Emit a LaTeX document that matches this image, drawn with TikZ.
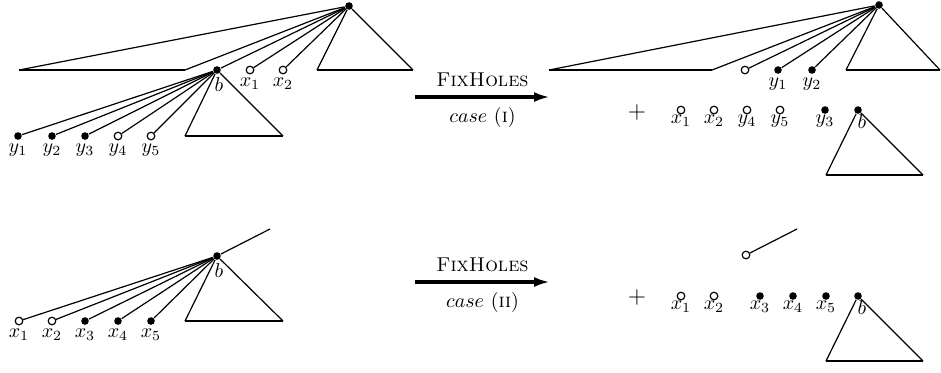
\documentclass[tikz,border=0pt]{standalone}
\usepackage{amsmath}
\usepackage{amssymb}
\usepackage{tikz}
\usetikzlibrary{arrows.meta}

\begin{document}
\begin{tikzpicture}[x=0.5pt,y=-0.5pt,line width=0.6pt,
  filldot/.style={circle,fill,inner sep=0pt,minimum size=3.8pt},
  holedot/.style={circle,draw,inner sep=0pt,minimum size=3.8pt},
  base/.style={line width=1.2pt},
  every label/.style={inner sep=0.5pt},
  label distance=1pt]
\useasboundingbox (0,0) rectangle (941,372);

% top left
\node[filldot] (R1) at (349,6) {};
\coordinate (TA) at (19,70);
\coordinate (TB) at (185,70);
\node[filldot,label={[xshift=1pt]below:$b$}] (B1) at (217,70) {};
\node[holedot,label=below:$x_1$] (X1) at (250,70) {};
\node[holedot,label=below:$x_2$] (X2) at (283,70) {};
\coordinate (SL1) at (317,70);
\coordinate (SR1) at (413,70);

\draw (R1) -- (TA);
\draw[base] (TA) -- (TB);
\draw (TB) -- (R1);
\draw (R1) -- (B1);
\draw (R1) -- (X1);
\draw (R1) -- (X2);
\draw (R1) -- (SL1);
\draw[base] (SL1) -- (SR1);
\draw (SR1) -- (R1);

\node[filldot,label=below:$y_1$] (Y1) at (18,136) {};
\node[filldot,label=below:$y_2$] (Y2) at (52,136) {};
\node[filldot,label=below:$y_3$] (Y3) at (85,136) {};
\node[holedot,label=below:$y_4$] (Y4) at (118,136) {};
\node[holedot,label=below:$y_5$] (Y5) at (151,136) {};
\coordinate (BL1) at (185,136);
\coordinate (BR1) at (283,136);

\draw (B1) -- (Y1);
\draw (B1) -- (Y2);
\draw (B1) -- (Y3);
\draw (B1) -- (Y4);
\draw (B1) -- (Y5);
\draw (B1) -- (BL1);
\draw[base] (BL1) -- (BR1);
\draw (BR1) -- (B1);

% first arrow
\coordinate (AS1) at (415,97);
\coordinate (AE1) at (550,97);
\draw[line width=1.8pt,-{Latex[length=8pt,width=5pt]}] (AS1) to
  node[above=1pt]{\textsc{FixHoles}}
  node[below=1pt]{$case$ (\textsc{i})} (AE1);

% top right
\node[filldot] (R2) at (879,5) {};
\coordinate (TC) at (549,70);
\coordinate (TD) at (712,70);
\node[holedot] (H1) at (745,70) {};
\node[filldot,label=below:$y_1$] (Z1) at (778,70) {};
\node[filldot,label=below:$y_2$] (Z2) at (812,70) {};
\coordinate (SL2) at (846,70);
\coordinate (SR2) at (940,70);

\draw (R2) -- (TC);
\draw[base] (TC) -- (TD);
\draw (TD) -- (R2);
\draw (R2) -- (H1);
\draw (R2) -- (Z1);
\draw (R2) -- (Z2);
\draw (R2) -- (SL2);
\draw[base] (SL2) -- (SR2);
\draw (SR2) -- (R2);

\begin{scope}[label distance=-0.5pt]
\node[font=\large] (P1) at (637,112) {$+$};
\node[holedot,label=below:$x_1$] (U1) at (681,110) {};
\node[holedot,label=below:$x_2$] (U2) at (714,110) {};
\node[holedot,label=below:$y_4$] (U4) at (747,110) {};
\node[holedot,label=below:$y_5$] (U5) at (780,110) {};
\node[filldot,label=below:$y_3$] (U3) at (825,110) {};
\node[filldot,label={[xshift=2pt]below:$b$}] (B2) at (858,110) {};
\end{scope}
\coordinate (BL2) at (826,175);
\coordinate (BR2) at (923,175);

\draw (B2) -- (BL2);
\draw[base] (BL2) -- (BR2);
\draw (BR2) -- (B2);

% bottom left
\node[filldot,label={[xshift=1pt]below:$b$}] (B3) at (217,256) {};
\coordinate (E3) at (270,229);
\node[holedot,label=below:$x_1$] (V1) at (19,321) {};
\node[holedot,label=below:$x_2$] (V2) at (52,321) {};
\node[filldot,label=below:$x_3$] (V3) at (85,321) {};
\node[filldot,label=below:$x_4$] (V4) at (118,321) {};
\node[filldot,label=below:$x_5$] (V5) at (151,321) {};
\coordinate (BL3) at (185,321);
\coordinate (BR3) at (283,321);

\draw (B3) -- (E3);
\draw (B3) -- (V1);
\draw (B3) -- (V2);
\draw (B3) -- (V3);
\draw (B3) -- (V4);
\draw (B3) -- (V5);
\draw (B3) -- (BL3);
\draw[base] (BL3) -- (BR3);
\draw (BR3) -- (B3);

% second arrow
\coordinate (AS2) at (415,282);
\coordinate (AE2) at (550,282);
\draw[line width=1.8pt,-{Latex[length=8pt,width=5pt]}] (AS2) to
  node[above=1pt]{\textsc{FixHoles}}
  node[below=1pt]{$case$ (\textsc{ii})} (AE2);

% bottom right
\node[holedot] (H4) at (746,255) {};
\coordinate (E4) at (797,229);
\draw (H4) -- (E4);

\begin{scope}[label distance=-0.5pt]
\node[font=\large] (P2) at (637,297) {$+$};
\node[holedot,label=below:$x_1$] (W1) at (681,296) {};
\node[holedot,label=below:$x_2$] (W2) at (714,296) {};
\node[filldot,label=below:$x_3$] (W3) at (760,296) {};
\node[filldot,label=below:$x_4$] (W4) at (793,296) {};
\node[filldot,label=below:$x_5$] (W5) at (826,296) {};
\node[filldot,label={[xshift=2pt]below:$b$}] (B4) at (858,296) {};
\end{scope}
\coordinate (BL4) at (826,361);
\coordinate (BR4) at (923,361);

\draw (B4) -- (BL4);
\draw[base] (BL4) -- (BR4);
\draw (BR4) -- (B4);
\end{tikzpicture}
\end{document}
